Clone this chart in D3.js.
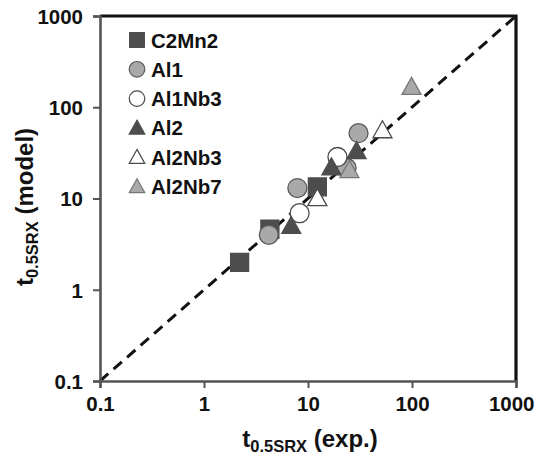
<!DOCTYPE html>
<html>
<head>
<meta charset="utf-8">
<script src="https://cdn.jsdelivr.net/npm/d3@7"></script>
<style>
  html, body { margin: 0; padding: 0; background: #fff; }
  svg { display: block; font-family: "Liberation Sans", Arial, sans-serif; }
</style>
</head>
<body>
<svg id="chart" width="536" height="464"></svg>
<script>
// Measured vs. modelled time for 50% static recrystallisation, per steel grade
const seriesNames = ["C2Mn2", "Al1", "Al1Nb3", "Al2", "Al2Nb3", "Al2Nb7"];
const expC2Mn2  = [2.2, 4.3, 12.3];
const modC2Mn2  = [2.0, 4.6, 13.4];
const expAl1    = [4.2, 7.9, 23.5, 30.6];
const modAl1    = [4.0, 13.0, 21.6, 52];
const expAl1Nb3 = [8.3, 19.2];
const modAl1Nb3 = [6.9, 28.5];
const expAl2    = [6.9, 16.8, 29.3];
const modAl2    = [5.0, 22, 33];
const expAl2Nb3 = [12.3, 52];
const modAl2Nb3 = [10.1, 56];
const expAl2Nb7 = [25, 99];
const modAl2Nb7 = [20.5, 167];
const tickValues = [0.1, 1, 10, 100, 1000];
const tickLabels = ["0.1", "1", "10", "100", "1000"];

const seriesExp = [expC2Mn2, expAl1, expAl1Nb3, expAl2, expAl2Nb3, expAl2Nb7];
const seriesMod = [modC2Mn2, modAl1, modAl1Nb3, modAl2, modAl2Nb3, modAl2Nb7];

// marker look per series
const styles = [
  { shape: "square",   fill: "#4d4d4d", stroke: "#4d4d4d" },
  { shape: "circle",   fill: "#a9a9a9", stroke: "#5a5a5a" },
  { shape: "circle",   fill: "#ffffff", stroke: "#4a4a4a" },
  { shape: "triangle", fill: "#4d4d4d", stroke: "#4d4d4d" },
  { shape: "triangle", fill: "#ffffff", stroke: "#4a4a4a" },
  { shape: "triangle", fill: "#a9a9a9", stroke: "#777777" }
];

const svg = d3.select("#chart");
const plotLeft = 100, plotRight = 516, plotTop = 16, plotBottom = 381;

const x = d3.scaleLog().domain([0.1, 1000]).range([plotLeft, plotRight]);
const y = d3.scaleLog().domain([0.1, 1000]).range([plotBottom, plotTop]);

// marker outline relative to its centre, scaled by k
function markerPath(shape, k) {
  const p = d3.path();
  if (shape === "square") {
    const h = 9 * k;
    p.rect(-h, -h, 2 * h, 2 * h);
  } else if (shape === "circle") {
    p.arc(0, 0, 9.5 * k, 0, 2 * Math.PI);
  } else {
    const w = 9.5 * k, hh = 8.5 * k;
    p.moveTo(0, -hh - 1 * k);
    p.lineTo(w, hh - 1 * k);
    p.lineTo(-w, hh - 1 * k);
    p.closePath();
  }
  return p.toString();
}

// 1:1 reference line
svg.append("line")
  .attr("x1", x(0.1)).attr("y1", y(0.1))
  .attr("x2", x(1000)).attr("y2", y(1000))
  .attr("stroke", "#111").attr("stroke-width", 3)
  .attr("stroke-dasharray", "11,7");

// plot frame: heavy black top and right edges
svg.append("path")
  .attr("d", `M${x(0.1)},${y(1000)}H${x(1000)}V${y(0.1)}`)
  .attr("fill", "none").attr("stroke", "#111").attr("stroke-width", 3.2);

// axes
const xAxis = d3.axisBottom(x).tickValues(tickValues)
  .tickFormat((d, i) => tickLabels[i]).tickSize(7).tickPadding(8);
const yAxis = d3.axisLeft(y).tickValues(tickValues)
  .tickFormat((d, i) => tickLabels[i]).tickSize(7).tickPadding(10);

const gx = svg.append("g").attr("transform", `translate(0,${plotBottom})`).call(xAxis);
const gy = svg.append("g").attr("transform", `translate(${plotLeft},0)`).call(yAxis);

[gx, gy].forEach(g => {
  g.select(".domain").attr("stroke", "#555").attr("stroke-width", 2.6);
  g.selectAll(".tick line").attr("stroke", "#555").attr("stroke-width", 2);
  g.selectAll(".tick text")
    .attr("fill", "#111").attr("font-size", 20.5).attr("font-weight", "bold")
    .attr("font-family", "'Liberation Sans', Arial, sans-serif");
});
gy.selectAll(".tick text").attr("dy", "0.36em");
// keep the last bottom label inside the page
gx.selectAll(".tick text").filter(d => d === 1000)
  .attr("text-anchor", "end").attr("dx", 18);

// data markers, series drawn in order so later ones sit on top
seriesNames.forEach((name, s) => {
  const st = styles[s];
  const pts = seriesExp[s].map((v, i) => ({ ex: v, mo: seriesMod[s][i] }));
  svg.append("g").attr("class", "series-" + name)
    .selectAll("path").data(pts).join("path")
    .attr("transform", d => `translate(${x(d.ex)},${y(d.mo)})`)
    .attr("d", markerPath(st.shape, 1))
    .attr("fill", st.fill).attr("stroke", st.stroke).attr("stroke-width", 1.3);
});

// legend
const legend = svg.append("g").attr("transform", "translate(137,40)");
seriesNames.forEach((name, s) => {
  const st = styles[s];
  const row = legend.append("g").attr("transform", `translate(0,${s * 29.3})`);
  row.append("path")
    .attr("d", markerPath(st.shape, 0.82))
    .attr("fill", st.fill).attr("stroke", st.stroke).attr("stroke-width", 1.2);
  row.append("text")
    .attr("x", 14).attr("y", 7.5)
    .attr("font-size", 20.5).attr("font-weight", "bold").attr("fill", "#111")
    .text(name);
});

// axis titles with subscripted variable name
function title(g, main, sub, rest) {
  const t = g.append("text").attr("text-anchor", "middle")
    .attr("font-weight", "bold").attr("fill", "#111").attr("font-size", 24);
  t.append("tspan").text(main);
  t.append("tspan").attr("font-size", 16.5).attr("dy", 5).text(sub);
  t.append("tspan").attr("dy", -5).text(rest);
  return t;
}
title(svg.append("g").attr("transform", "translate(310,447)"), "t", "0.5SRX", " (exp.)");
title(svg.append("g").attr("transform", "translate(33,207) rotate(-90)"), "t", "0.5SRX", " (model)");
</script>
</body>
</html>
